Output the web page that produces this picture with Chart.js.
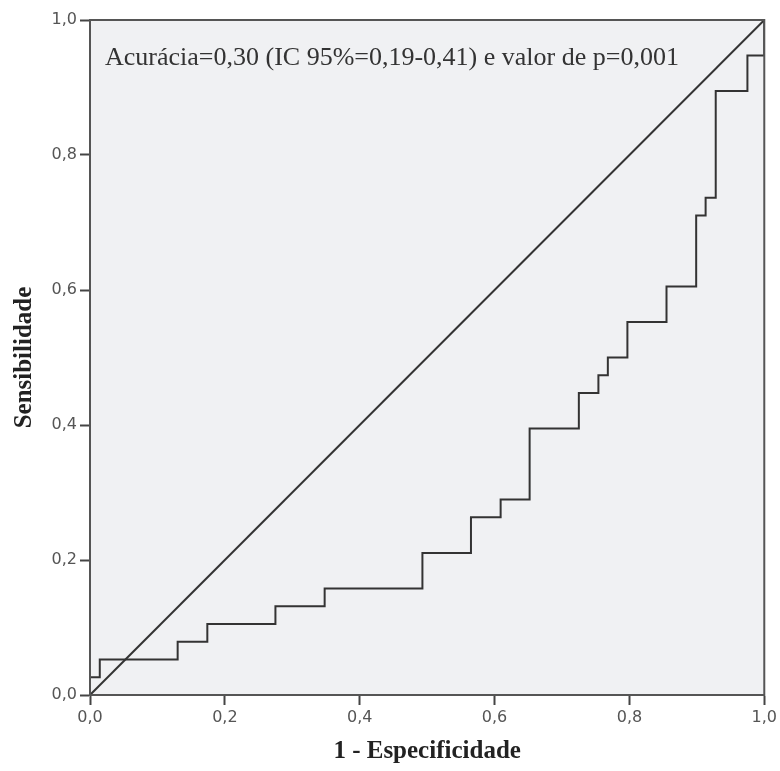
<!DOCTYPE html>
<html>
<head>
<meta charset="utf-8">
<script src="https://cdn.jsdelivr.net/npm/chart.js@4"></script>
<style>
  html, body { margin: 0; padding: 0; background: #fff; }
  #wrap { width: 780px; height: 771px; }
</style>
</head>
<body>
<div id="wrap"><canvas id="roc"></canvas></div>
<script>
// ROC curve corners (1 - especificidade, sensibilidade)
const fpr = [0, 0, 0.0145, 0.130, 0.174, 0.275, 0.348, 0.493, 0.565, 0.609, 0.652, 0.725, 0.754, 0.768, 0.797, 0.855, 0.899, 0.913, 0.928, 0.975, 1.0];
const tpr = [0, 0.0263, 0.0526, 0.0789, 0.1053, 0.1316, 0.1579, 0.2105, 0.2632, 0.2895, 0.3947, 0.4474, 0.4737, 0.5, 0.5526, 0.6053, 0.7105, 0.7368, 0.8947, 0.9474, 1.0];
const refLine = [0, 1];
const tickValues = [0, 0.2, 0.4, 0.6, 0.8, 1.0];
const note = 'Acurácia=0,30 (IC 95%=0,19-0,41) e valor de p=0,001';

const fmt = v => v.toFixed(1).replace('.', ',');

const plotBox = {
    id: 'plotBox',
    beforeDraw(chart) {
        const { ctx, chartArea: a } = chart;
        ctx.save();
        ctx.fillStyle = '#f0f1f3';
        ctx.fillRect(a.left, a.top, a.right - a.left, a.bottom - a.top);
        ctx.restore();
    },
    afterDraw(chart) {
        const { ctx, chartArea: a } = chart;
        ctx.save();
        ctx.strokeStyle = '#555';
        ctx.lineWidth = 2;
        ctx.strokeRect(a.left, a.top, a.right - a.left, a.bottom - a.top);
        ctx.fillStyle = '#333';
        ctx.font = '26px "Liberation Serif", serif';
        ctx.textBaseline = 'alphabetic';
        ctx.fillText(note, a.left + 15, a.top + 45);
        ctx.restore();
    }
};

const axisCommon = {
    type: 'linear',
    min: 0,
    max: 1,
    grid: { drawOnChartArea: false, color: '#444', tickLength: 10, tickWidth: 2 },
    border: { color: '#555', width: 2 },
    afterBuildTicks: axis => { axis.ticks = tickValues.map(v => ({ value: v })); },
    ticks: {
        callback: v => fmt(v),
        color: '#555',
        padding: 3,
        font: { family: 'DejaVu Sans', size: 16 }
    },
    title: {
        display: true,
        color: '#222',
        font: { family: 'Liberation Serif', size: 25, weight: 'bold' }
    }
};

new Chart(document.getElementById('roc'), {
    type: 'scatter',
    data: {
        datasets: [
            {
                data: fpr.map((x, i) => ({ x, y: tpr[i] })),
                showLine: true,
                stepped: 'before',
                borderColor: '#333',
                borderWidth: 2,
                pointRadius: 0,
                fill: false
            },
            {
                data: refLine.map(v => ({ x: v, y: v })),
                showLine: true,
                borderColor: '#333',
                borderWidth: 2,
                pointRadius: 0,
                fill: false
            }
        ]
    },
    options: {
        responsive: true,
        maintainAspectRatio: false,
        animation: false,
        layout: { padding: { top: 20, right: 15, left: 0, bottom: 0 } },
        plugins: { legend: { display: false }, tooltip: { enabled: false } },
        scales: {
            x: {
                ...axisCommon,
                title: { ...axisCommon.title, text: '1 - Especificidade', padding: { top: 4, bottom: 4 } },
                afterFit: s => { s.height = 76; }
            },
            y: {
                ...axisCommon,
                title: { ...axisCommon.title, text: 'Sensibilidade', padding: { top: 10, bottom: 4 } },
                afterFit: s => { s.width = 90; }
            }
        }
    },
    plugins: [plotBox]
});
</script>
</body>
</html>
